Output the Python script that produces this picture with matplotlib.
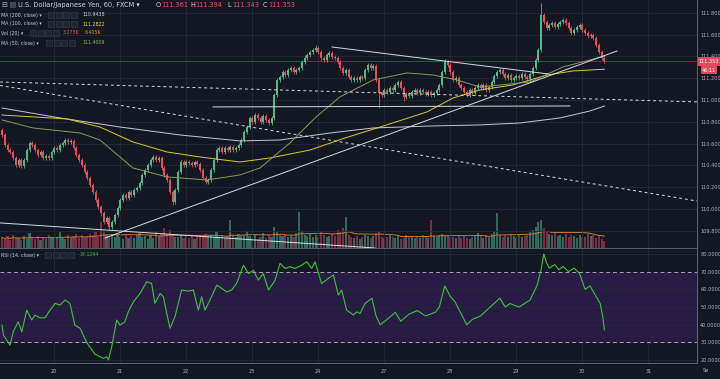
import matplotlib
matplotlib.use('Agg')
import matplotlib.pyplot as plt
import numpy as np
import pandas as pd
from matplotlib.patches import Rectangle

plt.rcParams['font.family'] = ['DejaVu Sans']

# ---------------- data ----------------
first_open = 110.724
closes = [
    110.678, 110.587, 110.541, 110.523, 110.467, 110.403, 110.449, 110.394, 110.449, 110.541,
    110.605, 110.587, 110.541, 110.495, 110.523, 110.467, 110.486, 110.467, 110.523, 110.559,
    110.541, 110.587, 110.605, 110.633, 110.614, 110.623, 110.559, 110.495, 110.449, 110.403,
    110.339, 110.284, 110.220, 110.156, 110.082, 110.018, 109.963, 109.880, 109.917, 109.834,
    109.880, 109.944, 110.009, 110.082, 110.128, 110.101, 110.156, 110.128, 110.174, 110.192,
    110.238, 110.312, 110.357, 110.403, 110.449, 110.477, 110.449, 110.467, 110.376, 110.312,
    110.266, 110.156, 110.064, 110.174, 110.339, 110.431, 110.403, 110.431, 110.422, 110.403,
    110.431, 110.412, 110.357, 110.284, 110.247, 110.266, 110.357, 110.449, 110.541, 110.559,
    110.523, 110.559, 110.541, 110.569, 110.541, 110.559, 110.587, 110.633, 110.706, 110.752,
    110.834, 110.798, 110.862, 110.834, 110.798, 110.853, 110.816, 110.789, 110.834, 111.046,
    111.183, 111.211, 111.256, 111.229, 111.275, 111.293, 111.256, 111.275, 111.293, 111.348,
    111.385, 111.412, 111.440, 111.458, 111.477, 111.440, 111.385, 111.367, 111.412, 111.431,
    111.394, 111.385, 111.348, 111.293, 111.247, 111.275, 111.211, 111.183, 111.201, 111.183,
    111.211, 111.201, 111.275, 111.321, 111.293, 111.312, 111.183, 111.064, 111.046, 111.091,
    111.073, 111.110, 111.091, 111.137, 111.165, 111.110, 111.027, 111.055, 111.036, 111.073,
    111.091, 111.064, 111.091, 111.073, 111.055, 111.073, 111.046, 111.064, 111.091, 111.137,
    111.256, 111.348, 111.321, 111.256, 111.183, 111.201, 111.137, 111.110, 111.073, 111.046,
    111.091, 111.064, 111.110, 111.137, 111.110, 111.137, 111.091, 111.119, 111.165, 111.220,
    111.256, 111.275, 111.238, 111.201, 111.229, 111.183, 111.201, 111.220, 111.201, 111.238,
    111.211, 111.192, 111.238, 111.293, 111.367, 111.458, 111.779, 111.715, 111.660, 111.688,
    111.706, 111.669, 111.697, 111.715, 111.734, 111.706, 111.660, 111.614, 111.642, 111.669,
    111.688, 111.642, 111.614, 111.587, 111.596, 111.568, 111.504, 111.440, 111.385, 111.353,
]
high_override = {196: 111.890, 114: 111.505, 161: 111.372, 99: 111.065, 110: 111.41}
low_override = {39: 109.810, 137: 110.930, 62: 110.040, 36: 109.940, 146: 110.99}

volumes = [
    7.5, 6.0, 8.2, 5.5, 9.0, 6.8, 7.2, 5.8, 8.5, 6.5,
    10.5, 7.0, 6.2, 8.8, 5.5, 7.8, 6.0, 9.2, 7.5, 6.8,
    8.0, 11.0, 7.2, 6.5, 9.5, 7.0, 8.2, 10.0, 6.8, 9.0,
    7.5, 8.5, 10.2, 9.0, 11.5, 8.0, 18.5, 12.0, 9.5, 8.8,
    10.0, 7.5, 9.2, 8.0, 6.5, 9.8, 7.2, 8.5, 6.8, 9.0,
    10.5, 7.5, 8.2, 6.5, 9.5, 7.0, 11.0, 8.5, 9.8, 14.0,
    10.2, 12.5, 9.0, 8.0, 7.5, 9.2, 6.8, 8.5, 7.0, 8.8,
    6.5, 9.0, 8.2, 7.5, 10.0, 8.5, 9.5, 7.8, 11.0, 8.0,
    9.2, 7.0, 8.5, 20.0, 9.0, 7.5, 10.0, 8.2, 9.5, 12.0,
    8.5, 7.0, 9.8, 6.5, 8.0, 10.5, 7.2, 9.0, 8.0, 14.5,
    11.0, 9.5, 8.2, 10.0, 7.5, 9.2, 8.0, 10.5, 25.5, 12.0,
    9.0, 8.5, 10.2, 7.8, 9.5, 8.0, 11.0, 9.2, 7.5, 8.8,
    10.0, 8.2, 12.5, 11.0, 14.0, 22.0, 9.5, 8.0, 7.2, 8.5,
    6.5, 7.8, 9.0, 8.2, 7.0, 8.5, 10.5, 11.0, 8.0, 6.8,
    7.5, 9.2, 8.0, 7.0, 8.8, 6.5, 7.2, 9.0, 8.5, 7.5,
    6.8, 8.2, 7.0, 9.5, 8.0, 7.2, 19.5, 8.5, 7.8, 9.5,
    10.0, 8.5, 9.2, 7.5, 8.0, 6.8, 9.0, 7.2, 8.5, 7.0,
    6.5, 8.0, 9.5, 10.5, 8.2, 7.0, 9.0, 8.0, 10.0, 11.5,
    25.0, 9.0, 8.0, 9.2, 7.5, 10.0, 8.5, 7.2, 9.8, 8.0,
    8.5, 9.0, 11.0, 12.5, 15.0, 18.0, 20.0, 14.0, 12.0, 10.0,
    9.5, 11.0, 8.2, 9.0, 7.5, 10.2, 8.0, 9.5, 8.5, 7.2,
    9.0, 8.0, 7.5, 10.0, 8.2, 9.5, 7.0, 8.5, 6.5, 4.6,
]

ma200_x = [0, 21.1, 42.9, 64.7, 86.5, 101.1, 119.3, 134.9, 155.6, 173.8, 188.4, 202.9, 213.8, 219]
ma200_y = [110.926, 110.835, 110.752, 110.679, 110.624, 110.633, 110.697, 110.743, 110.761,
           110.771, 110.789, 110.835, 110.899, 110.944]
ma100_x = [0, 23.6, 35.6, 47.6, 60.0, 72.0, 86.5, 97.5, 112.0, 124.7, 137.5, 154.5, 164.0,
           173.8, 185.8, 198.2, 207.6, 219]
ma100_y = [110.862, 110.826, 110.752, 110.615, 110.523, 110.477, 110.431, 110.468, 110.541,
           110.651, 110.752, 110.890, 111.018, 111.092, 111.138, 111.229, 111.266, 111.282]
ma50_x = [0, 11.3, 28.4, 35.6, 47.6, 60.0, 74.5, 86.5, 93.8, 104.7, 113.8, 122.9, 134.9,
          147.3, 156.7, 165.5, 173.8, 192.0, 204.0, 219]
ma50_y = [110.817, 110.743, 110.697, 110.633, 110.376, 110.294, 110.266, 110.312, 110.376,
          110.606, 110.835, 111.028, 111.183, 111.248, 111.229, 111.183, 111.119, 111.165,
          111.303, 111.401]

rsi_x = [0, 0.5, 2.9, 4.1, 5.9, 7.2, 9.0, 10.8, 12.0, 13.8, 15.6, 17.5, 19.3, 21.1, 22.9, 24.7,
         26.5, 28.4, 30.8, 33.8, 36.8, 38.1, 38.7, 39.9, 41.7, 42.9, 44.7, 45.9, 47.8, 50.2,
         52.6, 54.4, 55.6, 57.5, 58.7, 59.9, 61.1, 62.9, 65.3, 67.8, 69.6, 71.4, 72.6, 73.8,
         75.6, 78.1, 79.9, 81.7, 83.5, 85.3, 87.8, 89.6, 91.4, 93.2, 95.0, 96.9, 99.3, 101.1,
         102.9, 104.7, 106.5, 109.0, 110.8, 112.6, 113.8, 116.2, 118.7, 120.5, 122.3, 123.5,
         125.3, 127.8, 129.0, 130.2, 132, 134.5, 136, 137.5, 140, 143, 145, 148, 151, 154,
         157.5, 159, 161, 163, 164.7, 167, 169, 171, 174, 177.5, 181, 183, 184.7, 188, 190,
         192, 194.5, 196, 197, 198, 199, 201, 202.5, 204, 206, 208, 210, 212, 213.8, 215.6,
         217.5, 218.5, 219]
rsi_y = [39.8, 34.2, 28.5, 36.1, 41.7, 36.0, 48.3, 42.7, 45.5, 43.9, 43.9, 48.3, 52.1, 51.1,
         54.0, 52.1, 39.8, 38.0, 30.0, 23.4, 21.0, 21.9, 20.1, 27.6, 42.7, 39.8, 41.7, 47.3,
         53.0, 57.7, 64.3, 63.3, 52.1, 57.7, 55.8, 46.4, 38.0, 44.6, 59.6, 59.0, 59.6, 48.3,
         55.8, 48.3, 53.9, 62.4, 60.5, 58.6, 59.6, 63.4, 73.6, 68.9, 70.8, 65.2, 68.9, 59.6,
         65.2, 74.7, 71.8, 72.8, 71.8, 73.7, 75.6, 71.8, 75.6, 63.3, 66.2, 68.1, 56.8, 59.6,
         48.3, 45.5, 47.3, 46.4, 52.0, 55.0, 45.0, 40.0, 43.0, 47.0, 42.0, 46.0, 48.0, 45.0,
         47.0, 50.0, 62.0, 56.0, 53.0, 46.0, 40.0, 43.0, 45.0, 50.0, 55.0, 50.0, 52.0, 50.0,
         52.0, 54.0, 62.0, 71.0, 80.0, 75.0, 72.0, 74.0, 71.0, 73.0, 70.0, 72.0, 69.0, 60.0,
         62.0, 57.0, 52.0, 44.0, 37.13]

# drawn trend lines: ((bar, price), (bar, price))
trend_solid = [
    ((37.5, 109.734), (223.6, 111.449)),
    ((120.0, 111.486), (198.5, 111.239)),
    ((76.7, 110.936), (206.5, 110.945)),
    ((-0.7, 109.872), (135.6, 109.642)),
]
trend_dashed = [
    ((-0.7, 111.165), (252.7, 110.982)),
    ((-0.7, 111.133), (252.7, 110.073)),
]

day_ticks = [19, 43, 67, 91, 115, 139, 163, 187, 211, 235]
day_labels = ['20', '21', '22', '23', '24', '27', '28', '29', '30', '31']
price_ticks = [109.8, 110.0, 110.2, 110.4, 110.6, 110.8, 111.0, 111.2, 111.4, 111.6, 111.8]
rsi_ticks = [20, 30, 40, 50, 60, 70, 80]

# ---------------- style ----------------
BG = '#131722'
GRID = '#262a35'
TXT = '#b2b5be'
UP = '#53b987'
DN = '#eb4d5c'
VUP = '#2f6b58'
VDN = '#7a2e44'
W, H = 720, 379

def fx(x):
    return x / W

def fy(y):
    return 1 - y / H

fig = plt.figure(figsize=(7.2, 3.79), dpi=100)
fig.patch.set_facecolor(BG)

price_rect = [0, fy(248), fx(697), 248 / H]
rsi_rect = [0, fy(363), fx(697), (363 - 249) / H]

ax = fig.add_axes(price_rect)
axv = ax.twinx()
ax.set_zorder(2)
axv.set_zorder(1)
ax.patch.set_visible(False)
axv.patch.set_visible(True)
axv.patch.set_facecolor(BG)

axr = fig.add_axes(rsi_rect, sharex=ax)
axr.set_facecolor(BG)

XL = (-0.727, 252.7)
ax.set_xlim(*XL)
ax.set_ylim(109.642, 111.917)
axv.set_ylim(0, 175)
axr.set_ylim(18.4, 82.8)

n = len(closes)
idx = np.arange(n)
opens = np.array([first_open] + closes[:-1])
cl = np.array(closes)
hi = np.maximum(opens, cl) + 0.018
lo = np.minimum(opens, cl) - 0.018
for k, v in high_override.items():
    hi[k] = v
for k, v in low_override.items():
    lo[k] = v
up = cl >= opens
colors = np.where(up, UP, DN)

# volume
axv.bar(idx, volumes, width=0.75, color=np.where(up, VUP, VDN), linewidth=0)
vma = pd.Series(volumes).rolling(20, min_periods=1).mean()
axv.plot(idx, vma, color='#c9783a', lw=0.7)
axv.set_yticks([])
for s in axv.spines.values():
    s.set_visible(False)

# grid
for t in price_ticks:
    ax.axhline(t, color=GRID, lw=0.6, zorder=0)
for t in day_ticks:
    ax.axvline(t, color=GRID, lw=0.6, zorder=0)
    axr.axvline(t, color=GRID, lw=0.6, zorder=0)

# candles
ax.vlines(idx, lo, hi, colors=colors, lw=0.6, zorder=3)
body_h = np.maximum(np.abs(cl - opens), 0.005)
ax.bar(idx, body_h, bottom=np.minimum(opens, cl), width=0.72, color=colors, linewidth=0, zorder=4)

# moving averages
ax.plot(ma200_x, ma200_y, color='#c7c9cf', lw=0.7, zorder=5)
ax.plot(ma100_x, ma100_y, color='#d5cf2a', lw=0.7, zorder=5)
ax.plot(ma50_x, ma50_y, color='#8a9a62', lw=0.7, zorder=5)

# trend lines
for (a, b) in trend_solid:
    ax.plot([a[0], b[0]], [a[1], b[1]], color='#d9dbe0', lw=0.7, zorder=5)
for (a, b) in trend_dashed:
    ax.plot([a[0], b[0]], [a[1], b[1]], color='#d9dbe0', lw=0.7, ls=(0, (3, 3)), zorder=5)

# current price line
ax.axhline(closes[-1], color='#8c2f42', lw=0.6, zorder=2)

# axes formatting
ax.yaxis.tick_right()
ax.set_yticks(price_ticks)
ax.set_yticklabels(['%.3f' % t for t in price_ticks])
ax.tick_params(axis='y', length=0, pad=2.3, labelsize=3.6, colors=TXT)
ax.tick_params(axis='x', length=0, labelbottom=False)
for nm, s in ax.spines.items():
    if nm in ('right', 'bottom'):
        s.set_color('#5a5e6a')
        s.set_linewidth(0.8)
    else:
        s.set_visible(False)

# RSI pane
axr.axhspan(30, 70, color='#281c44', zorder=0)
for t in rsi_ticks:
    if t in (30, 70):
        continue
    axr.axhline(t, color=GRID, lw=0.6, zorder=1)
axr.axhline(70, color='#a3a6b0', lw=0.7, ls=(0, (4, 3)), zorder=2)
axr.axhline(30, color='#a3a6b0', lw=0.7, ls=(0, (4, 3)), zorder=2)
axr.plot(rsi_x, rsi_y, color='#3ec23e', lw=0.8, zorder=3)
axr.yaxis.tick_right()
axr.set_yticks(rsi_ticks)
axr.set_yticklabels(['%.4f' % t for t in rsi_ticks])
axr.tick_params(axis='y', length=0, pad=2.3, labelsize=3.6, colors=TXT)
axr.set_xticks(day_ticks)
axr.set_xticklabels(day_labels)
axr.tick_params(axis='x', length=0, pad=4, labelsize=3.6, colors=TXT)
for nm, s in axr.spines.items():
    if nm in ('right', 'bottom'):
        s.set_color('#5a5e6a')
        s.set_linewidth(0.8)
    else:
        s.set_visible(False)
axr.set_xlim(*XL)
fig.text(fx(706), fy(371), 'Se', fontsize=3.6, color=TXT, ha='center', va='center')

# price tag
ytag = 248 - (closes[-1] - 109.642) / (111.917 - 109.642) * 248
fig.patches.append(Rectangle((fx(698), fy(ytag + 4.5)), fx(22), 9 / H, transform=fig.transFigure,
                             facecolor='#e0485c', edgecolor='none', zorder=10))
fig.text(fx(709), fy(ytag), '%.3f' % closes[-1], fontsize=3.6, color='white', ha='center',
         va='center', zorder=11)
fig.patches.append(Rectangle((fx(701), fy(ytag + 13)), fx(16), 8 / H, transform=fig.transFigure,
                             facecolor='#e0485c', edgecolor='none', zorder=10))
fig.text(fx(709), fy(ytag + 9), '46:11', fontsize=3.6, color='white', ha='center',
         va='center', zorder=11)

# legends
def icons(x0, ycen, count=4):
    for k in range(count):
        fig.patches.append(Rectangle((fx(x0 + k * 7.5), fy(ycen + 3)), fx(6), 6 / H,
                                     transform=fig.transFigure, facecolor='#20242f',
                                     edgecolor='#3b3f4a', lw=0.4, zorder=10))

fig.text(fx(1.5), fy(5), '\u229f', fontsize=5, color=TXT, va='center', ha='left')
fig.patches.append(Rectangle((fx(10), fy(8)), fx(5.5), 5.5 / H, transform=fig.transFigure,
                             facecolor='#434651', edgecolor='none'))
fig.text(fx(18), fy(5), 'U.S. Dollar/Japanese Yen, 60, FXCM \u25be', fontsize=4.8,
         color='#d1d4dc', va='center', ha='left')
ohlc_lab = ['O', 'H', 'L', 'C']
ohlc_val = ['111.361', '111.394', '111.343', '111.353']
ohlc_x = [156, 190, 227, 263]
for lab, val, xx in zip(ohlc_lab, ohlc_val, ohlc_x):
    fig.text(fx(xx), fy(5), lab, fontsize=4.8, color='#d1d4dc', va='center', ha='left')
    fig.text(fx(xx + 5.2), fy(5), val, fontsize=4.8, color=DN, va='center', ha='left')

rows = [
    (15, 'MA (200, close) \u25be', 48, [('110.9438', 82, '#d1d4dc')]),
    (24, 'MA (100, close) \u25be', 48, [('111.2822', 82, '#e8e22a')]),
    (33, 'Vol (20) \u25be', 30, [('3.273K', 63, DN), ('6.405K', 85, '#e08a3c')]),
    (43, 'MA (50, close) \u25be', 46, [('111.4009', 82, '#8fb068')]),
]
for yy, lab, ix, vals in rows:
    fig.text(fx(1), fy(yy), lab, fontsize=3.4, color='#c8cad0', va='center', ha='left')
    icons(ix, yy)
    for v, xx, c in vals:
        fig.text(fx(xx), fy(yy), v, fontsize=3.4, color=c, va='center', ha='left')

fig.text(fx(1), fy(255), 'RSI (14, close) \u25be', fontsize=3.4, color='#c8cad0', va='center', ha='left')
icons(45, 255)
fig.text(fx(80), fy(255), '37.1294', fontsize=3.4, color='#3ec23e', va='center', ha='left')

fig.savefig('out.png', dpi=100, facecolor=BG)
